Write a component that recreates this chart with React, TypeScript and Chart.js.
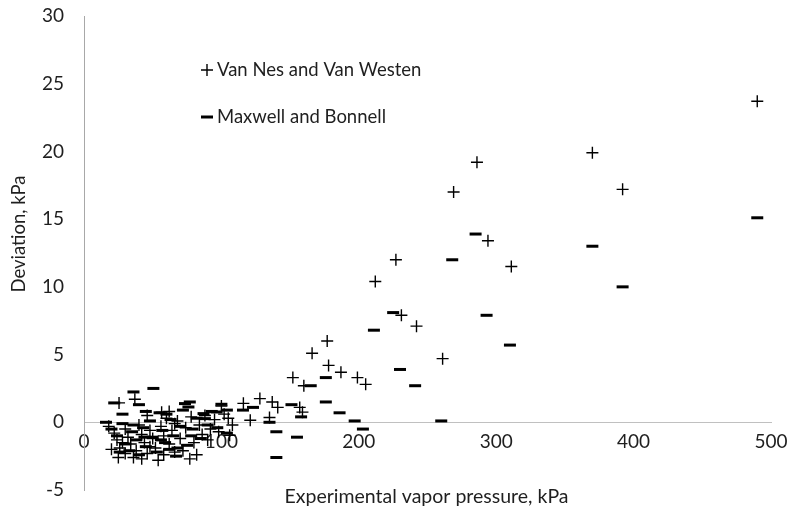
import React, { useEffect, useRef } from "react";
import { Chart, registerables } from "chart.js";

Chart.register(...registerables);

const xTickValues = [0, 100, 200, 300, 400, 500];
const yTickValues = [-5, 0, 5, 10, 15, 20, 25, 30];

const seriesNames = ["Van Nes and Van Westen", "Maxwell and Bonnell"];
const xTitle = "Experimental vapor pressure, kPa";
const yTitle = "Deviation, kPa";

// Van Nes and Van Westen (+ markers): [pressure kPa, deviation kPa]
const vanNesPoints: [number, number][] = [
  [490, 23.7], [370, 19.9], [392, 17.2], [286, 19.2], [269, 17.0], [294, 13.4],
  [311, 11.5], [227, 12.0], [212, 10.4], [231, 7.9], [242, 7.1], [261, 4.7],
  [177, 6.0], [166, 5.1], [178, 4.2], [187, 3.7], [199, 3.3], [205, 2.8],
  [152, 3.3], [160, 2.7], [157, 1.1], [159, 0.75], [128, 1.75], [137, 1.5],
  [141, 1.1], [116, 1.4], [135, 0.35], [121, 0.15], [100, 1.2], [106, -0.96],
  [25.5, 1.43], [37, 1.7], [56.5, 0.75], [18, -0.3], [22, -0.8], [24, -1.3],
  [26, -1.9], [25, -2.6], [30, -0.5], [32, -1.1], [34, -1.6], [36, -2.6],
  [38, -2.1], [40, -0.2], [42, -0.9], [44, -1.5], [46, -2.3], [48, -0.6],
  [50, -1.2], [52, -1.9], [54, -2.8], [56, -0.3], [58, -1.0], [60, 0.3],
  [62, -1.6], [64, -0.6], [66, -2.2], [68, 0.1], [70, -1.2], [72, -2.1],
  [74, -0.4], [77, -2.7], [78, 0.4], [80, -1.5], [84, -0.2], [86, -0.9],
  [88, 0.5], [92, -0.5], [95, 0.2], [98, -0.7], [102, 0.6], [105, 0.3],
  [108, -0.2], [62, 0.8], [46, 0.5], [20, -2.0], [30, -2.3], [42, -2.7],
  [58, -2.4], [66, -0.1], [82, -2.4], [90, -1.3], [28, -1.5], [48, -1.8],
];

// Maxwell and Bonnell (– markers): [pressure kPa, deviation kPa]
const maxwellPoints: [number, number][] = [
  [490, 15.1], [370, 13.0], [392, 10.0], [285, 13.9], [268, 12.0], [293, 7.9],
  [310, 5.7], [225, 8.1], [211, 6.8], [230, 3.9], [241, 2.7], [260, 0.1],
  [176, 3.3], [165, 2.7], [176, 1.5], [186, 0.7], [197, 0.1], [203, -0.5],
  [151, 1.3], [158, 0.4], [123, 1.1], [135, 0.0], [140, -0.7], [155, -1.1],
  [140, -2.6], [115.7, 0.9],
  [22, 1.43], [36, 2.24], [50.5, 2.5], [40, 1.3], [55, 0.7], [60, 0.6],
  [73.5, 1.38], [76, 1.13], [77, 1.5], [87, 0.64], [88, 0.27], [100, 1.33],
  [104, 0.9], [96.5, 0.76], [104, -0.8], [16, 0.0], [20, -0.5], [24, -1.0],
  [28, -0.1], [30, -1.6], [33, -2.1], [35, -0.7], [38, -1.3], [40, -2.4],
  [43, -0.4], [45, -1.8], [48, 0.1], [50, -1.1], [53, -2.2], [57, -0.6],
  [59, -1.5], [63, 0.2], [65, -1.0], [67, -2.5], [70, -0.3], [72, 0.9],
  [75, -1.7], [79, -0.5], [82, 0.3], [85, -1.2], [90, -0.2], [93, 0.8],
  [97, -0.4], [45, 0.8], [28, 0.6], [68, -1.9], [26, -2.2], [56, -1.3],
  [62, -2.0], [78, -1.0], [36, -0.2], [44, -1.1],
];

const FONT_FAMILY = "Lato, 'Open Sans', sans-serif";
const TEXT_COLOR = "#1f1f1f";
const MARK_COLOR = "#000000";

const overlayPlugin = {
  id: "overlayText",
  afterDraw(chart: any) {
    const ctx = chart.ctx;
    ctx.save();
    ctx.fillStyle = TEXT_COLOR;
    ctx.font = `19.5px ${FONT_FAMILY}`;
    ctx.textBaseline = "middle";
    ctx.textAlign = "center";
    const area = chart.chartArea;
    ctx.fillText(xTitle, (area.left + area.right) / 2 - 1, 497);

    // y-axis title
    ctx.save();
    ctx.font = `18.5px ${FONT_FAMILY}`;
    ctx.translate(19, 234);
    ctx.rotate(-Math.PI / 2);
    ctx.fillText(yTitle, 0, 0);
    ctx.restore();

    // legend
    const lx = 207;
    const rows = [70, 117];
    ctx.font = `18.5px ${FONT_FAMILY}`;
    ctx.textAlign = "left";
    ctx.strokeStyle = MARK_COLOR;
    // cross
    ctx.lineWidth = 1.4;
    ctx.beginPath();
    ctx.moveTo(lx - 6, rows[0]);
    ctx.lineTo(lx + 6, rows[0]);
    ctx.moveTo(lx, rows[0] - 6);
    ctx.lineTo(lx, rows[0] + 6);
    ctx.stroke();
    ctx.fillText(seriesNames[0], 217, rows[0]);
    // dash
    ctx.lineWidth = 3;
    ctx.beginPath();
    ctx.moveTo(lx - 6, rows[1]);
    ctx.lineTo(lx + 6, rows[1]);
    ctx.stroke();
    ctx.fillText(seriesNames[1], 217, rows[1]);
    ctx.restore();
  },
};

export default function App() {
  const canvasRef = useRef<HTMLCanvasElement | null>(null);

  useEffect(() => {
    if (!canvasRef.current) return;
    const toXY = (pts: [number, number][]) => pts.map(([x, y]) => ({ x, y }));
    const tickFont = { family: FONT_FAMILY, size: 19 };
    const chart = new Chart(canvasRef.current, {
      type: "scatter",
      data: {
        datasets: [
          {
            label: seriesNames[0],
            data: toXY(vanNesPoints),
            pointStyle: "cross",
            pointRadius: 6,
            pointBorderWidth: 1.4,
            pointBorderColor: MARK_COLOR,
            pointBackgroundColor: MARK_COLOR,
            showLine: false,
          },
          {
            label: seriesNames[1],
            data: toXY(maxwellPoints),
            pointStyle: "line",
            pointRadius: 6,
            pointBorderWidth: 3,
            pointBorderColor: MARK_COLOR,
            pointBackgroundColor: MARK_COLOR,
            showLine: false,
          },
        ],
      },
      options: {
        animation: false,
        responsive: false,
        maintainAspectRatio: false,
        events: [],
        layout: { padding: { top: 16, right: 21, bottom: 26, left: 0 } },
        plugins: {
          legend: { display: false },
          tooltip: { enabled: false },
        },
        scales: {
          x: {
            type: "linear",
            min: 0,
            max: 500,
            position: { y: 0 } as any,
            afterBuildTicks: (scale: any) => {
              scale.ticks = xTickValues.map((v) => ({ value: v }));
            },
            afterFit: (scale: any) => {
              scale.height = 0;
              scale.paddingLeft = 0;
              scale.paddingRight = 0;
            },
            ticks: { color: TEXT_COLOR, font: tickFont, padding: 8, maxRotation: 0 },
            grid: { display: false, drawTicks: false },
            border: { color: "#c0c0c0", width: 1 },
          },
          y: {
            type: "linear",
            min: -5,
            max: 30,
            afterBuildTicks: (scale: any) => {
              scale.ticks = yTickValues.map((v) => ({ value: v }));
            },
            afterFit: (scale: any) => {
              scale.width = 84;
              scale.paddingTop = 0;
              scale.paddingBottom = 0;
            },
            ticks: { color: TEXT_COLOR, font: tickFont, padding: 20 },
            grid: { display: false, drawTicks: false },
            border: { color: "#a8a8a8", width: 1 },
            title: { display: false, text: yTitle },
          },
        },
      },
      plugins: [overlayPlugin],
    } as any);
    return () => chart.destroy();
  }, []);

  return (
    <div style={{ position: "fixed", left: 0, top: 0, width: 792, height: 516, background: "#fff" }}>
      <canvas ref={canvasRef} width={792} height={516} style={{ width: 792, height: 516, display: "block" }} />
    </div>
  );
}
